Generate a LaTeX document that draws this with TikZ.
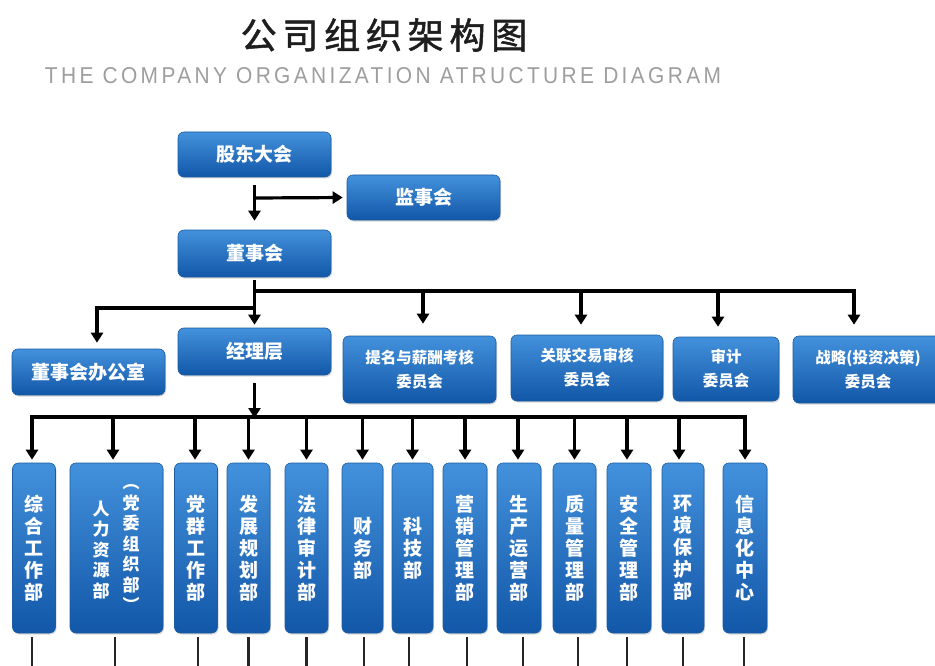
\documentclass[tikz,border=0pt]{standalone}
\usepackage{graphicx}
\usepackage{fontspec}
\setmainfont{Noto Sans CJK SC}
\newfontfamily\latinsans{Liberation Sans}
\usetikzlibrary{arrows.meta,shadows}
\definecolor{boxtop}{HTML}{4391DC}
\definecolor{boxbot}{HTML}{1257A8}
\definecolor{boxline}{HTML}{1B5CA3}
\definecolor{titlegray}{HTML}{1E1E1E}
\definecolor{subgray}{HTML}{9E9E9E}
\tikzset{
  orgbox/.style={rectangle, rounded corners=6pt, top color=boxtop, bottom color=boxbot,
    draw=boxline, line width=0.6pt, text=white, align=center, inner sep=0pt,
    font=\bfseries\fontsize{19pt}{22pt}\selectfont,
    drop shadow={shadow xshift=1pt, shadow yshift=-1.5pt, opacity=0.3}},
  combox/.style={orgbox, font=\bfseries\fontsize{15.5pt}{24pt}\selectfont},
  deptbox/.style={orgbox, minimum width=43pt, minimum height=170pt,
    font=\bfseries\fontsize{19pt}{22pt}\selectfont},
  coltext/.style={text=white, align=center, inner sep=0pt,
    font=\bfseries\fontsize{17pt}{20.5pt}\selectfont},
  conn/.style={line width=3.2pt, draw=black},
  arr/.style={conn, -{Triangle[width=12pt,length=10pt]}},
  leg/.style={line width=2.4pt, draw=black!85}
}
\begin{document}
\begin{tikzpicture}[x=1pt,y=-1pt]
\fill[white] (0,0) rectangle (935,666);
\useasboundingbox (0,0) rectangle (935,666);
\clip (0,0) rectangle (935,666);

% titles
\node[text=titlegray] (title) at (384,35)
  {\fontsize{36pt}{40pt}\selectfont\addfontfeature{LetterSpace=16,FakeBold=1.5}公司组织架构图};
\node[text=subgray, inner sep=0pt] (sub) at (383,76)
  {\resizebox{676pt}{16pt}{\latinsans\addfontfeature{LetterSpace=16}THE COMPANY ORGANIZATION ATRUCTURE DIAGRAM}};

% top level boxes
\node[orgbox, minimum width=153pt, minimum height=45pt] (gd) at (254.5,154.5) {股东大会};
\node[orgbox, minimum width=153pt, minimum height=45pt] (js) at (423.5,197.5) {监事会};
\node[orgbox, minimum width=153pt, minimum height=47pt] (dsh) at (254.5,253.5) {董事会};
\node[orgbox, minimum width=153pt, minimum height=46pt] (office) at (88.5,372) {董事会办公室};
\node[orgbox, minimum width=153pt, minimum height=47pt] (jl) at (254.5,351.5) {经理层};
\node[combox, minimum width=153pt, minimum height=67pt] (tm) at (419.5,369.5) {提名与薪酬考核\\委员会};
\node[combox, minimum width=152pt, minimum height=66pt] (gl) at (587,368) {关联交易审核\\委员会};
\node[combox, minimum width=106pt, minimum height=64pt] (sj) at (726,369) {审计\\委员会};
\node[combox, minimum width=150pt, minimum height=67pt] (zl) at (868,369.5) {战略(投资决策)\\委员会};

% departments
\node[deptbox] (d1) at (34,548) {综\\合\\工\\作\\部};
\node[deptbox, minimum width=93pt] (d2) at (116.5,548) {};
\node[coltext] (d2a) at (101,550) {人\\力\\资\\源\\部};
\node[coltext] (d2b) at (131,548) {︵\\党\\委\\组\\织\\部\\︶};
\node[deptbox] (d3) at (196,548) {党\\群\\工\\作\\部};
\node[deptbox] (d4) at (248.5,548) {发\\展\\规\\划\\部};
\node[deptbox] (d5) at (306.5,548) {法\\律\\审\\计\\部};
\node[deptbox, minimum width=41pt] (d6) at (362.5,548) {财\\务\\部};
\node[deptbox, minimum width=41pt] (d7) at (412.5,548) {科\\技\\部};
\node[deptbox, minimum width=44pt] (d8) at (465,548) {营\\销\\管\\理\\部};
\node[deptbox, minimum width=44pt] (d9) at (519,548) {生\\产\\运\\营\\部};
\node[deptbox] (d10) at (574.5,548) {质\\量\\管\\理\\部};
\node[deptbox, minimum width=44pt] (d11) at (629,548) {安\\全\\管\\理\\部};
\node[deptbox, minimum width=42pt] (d12) at (683,548) {环\\境\\保\\护\\部};
\node[deptbox, minimum width=44pt] (d13) at (745,548) {信\\息\\化\\中\\心};

% junction coordinates
\coordinate (cj) at (254.5,198);
\coordinate (cb) at (254.5,291);
\coordinate (cl) at (254.5,308);
\coordinate (bar) at (254.5,417);
\coordinate (bot) at (0,672);

% top connectors
\draw[arr, shorten <=8pt, shorten >=9pt] (gd.south) -- (dsh.north);
\draw[arr, shorten >=4pt] (cj) -- (js.west);
\draw[arr, shorten <=3pt, shorten >=3pt] (dsh.south) -- (jl.north);
\draw[arr, shorten >=11pt] (cb) -| ([xshift=-14pt]zl.north);
\draw[arr, shorten >=12pt] ([xshift=3.5pt]tm.north |- cb) -- ([xshift=3.5pt]tm.north);
\draw[arr, shorten >=10pt] ([xshift=-6pt]gl.north |- cb) -- ([xshift=-6pt]gl.north);
\draw[arr, shorten >=10pt] ([xshift=-8pt]sj.north |- cb) -- ([xshift=-8pt]sj.north);
\draw[arr, shorten >=6pt] (cl) -| ([xshift=8.5pt]office.north);

% manager to departments
\draw[arr, shorten <=8pt, shorten >=-1pt] (jl.south) -- (bar);
\draw[arr, shorten >=3pt] (bar) -| ([xshift=-2pt]d1.north);
\draw[arr, shorten >=3pt] (bar) -| (d13.north);
\foreach \n/\dx in {d2/-3.5, d3/-1, d4/0, d5/0, d6/0, d7/0, d8/0, d9/-1, d10/0, d11/-2, d12/-4}{
  \draw[arr, shorten >=3pt] ([xshift=\dx pt]\n.north |- bar) -- ([xshift=\dx pt]\n.north);
}

% legs below departments
\foreach \n/\dx in {d1/-2, d2/-1.5, d3/2, d4/0, d5/0, d6/1.5, d7/-3.5, d8/2, d9/4, d10/3.5, d11/-2, d12/0, d13/-1}{
  \draw[leg, shorten <=4pt] ([xshift=\dx pt]\n.south) -- ([xshift=\dx pt]\n.south |- bot);
}
\end{tikzpicture}
\end{document}
